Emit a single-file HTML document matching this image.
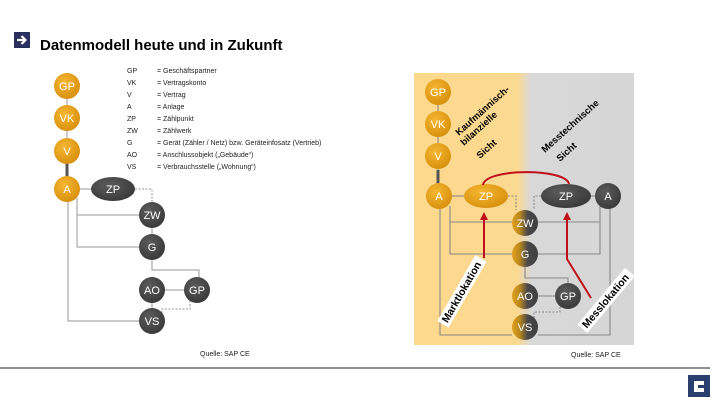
<!DOCTYPE html>
<html><head><meta charset="utf-8"><style>
body{margin:0;width:720px;height:405px;background:#fff;overflow:hidden;font-family:"Liberation Sans",sans-serif}
svg{display:block}
</style></head><body>
<svg width="720" height="405" viewBox="0 0 720 405" xmlns="http://www.w3.org/2000/svg" font-family="Liberation Sans, sans-serif">
<defs>
<radialGradient id="og" cx="40%" cy="35%" r="70%"><stop offset="0" stop-color="#f6b733"/><stop offset="1" stop-color="#d78f0a"/></radialGradient>
<radialGradient id="dg" cx="40%" cy="35%" r="70%"><stop offset="0" stop-color="#5c5c5c"/><stop offset="1" stop-color="#383838"/></radialGradient>
<linearGradient id="mg" x1="0" x2="1" y1="0" y2="0"><stop offset="0" stop-color="#e3a020"/><stop offset="0.3" stop-color="#b8871c"/><stop offset="0.6" stop-color="#4a4a4a"/><stop offset="1" stop-color="#3e3e3e"/></linearGradient>
<linearGradient id="bg" x1="0" x2="1"><stop offset="0" stop-color="#fcd98c"/><stop offset="0.47" stop-color="#fbd991"/><stop offset="0.53" stop-color="#d8d8d8"/><stop offset="1" stop-color="#d6d6d6"/></linearGradient>
</defs>
<rect x="14" y="32" width="16" height="16" fill="#2a2f5e"/>
<path d="M17 40h8M21.5 36l4 4-4 4" stroke="#fff" stroke-width="2.2" fill="none"/>
<text x="40" y="50" font-size="15" font-weight="bold" fill="#000">Datenmodell heute und in Zukunft</text>

<g stroke="#aaa" stroke-width="1.2" fill="none">
<line x1="67" y1="92" x2="67" y2="180"/>
<path d="M68 200V321H140"/>
<path d="M77 198V215H140M77 215V247H140"/>
<path d="M152 258V270H199V282"/>
<line x1="160" y1="290" x2="186" y2="290"/>
<line x1="80" y1="189" x2="92" y2="189"/>
<line x1="152" y1="225" x2="152" y2="236"/>
<line x1="152" y1="300" x2="152" y2="310"/>
<path d="M135 189H152V203" stroke-dasharray="2,1.5"/>
<path d="M162 313V309H190V300" stroke-dasharray="2,1.5"/>
</g>
<line x1="67" y1="163" x2="67" y2="177" stroke="#555" stroke-width="3"/>
<g font-size="11" fill="#fff" text-anchor="middle">
<circle cx="67" cy="86" r="13" fill="url(#og)"/><text x="67" y="90">GP</text>
<circle cx="67" cy="118" r="13" fill="url(#og)"/><text x="67" y="122">VK</text>
<circle cx="67" cy="151" r="13" fill="url(#og)"/><text x="67" y="155">V</text>
<circle cx="67" cy="189" r="13" fill="url(#og)"/><text x="67" y="193">A</text>
<ellipse cx="113" cy="189" rx="22" ry="12" fill="url(#dg)"/><text x="113" y="193">ZP</text>
<circle cx="152" cy="215" r="13" fill="url(#dg)"/><text x="152" y="219">ZW</text>
<circle cx="152" cy="247" r="13" fill="url(#dg)"/><text x="152" y="251">G</text>
<circle cx="152" cy="290" r="13" fill="url(#dg)"/><text x="152" y="294">AO</text>
<circle cx="197" cy="290" r="13" fill="url(#dg)"/><text x="197" y="294">GP</text>
<circle cx="152" cy="321" r="13" fill="url(#dg)"/><text x="152" y="325">VS</text>
</g>
<g font-size="7" fill="#222">
<text x="127" y="73">GP</text><text x="157" y="73">= Geschäftspartner</text>
<text x="127" y="85">VK</text><text x="157" y="85">= Vertragskonto</text>
<text x="127" y="97">V</text><text x="157" y="97">= Vertrag</text>
<text x="127" y="109">A</text><text x="157" y="109">= Anlage</text>
<text x="127" y="121">ZP</text><text x="157" y="121">= Zählpunkt</text>
<text x="127" y="133">ZW</text><text x="157" y="133">= Zählwerk</text>
<text x="127" y="145">G</text><text x="157" y="145">= Gerät (Zähler / Netz) bzw. Geräteinfosatz (Vertrieb)</text>
<text x="127" y="157">AO</text><text x="157" y="157">= Anschlussobjekt („Gebäude“)</text>
<text x="127" y="169">VS</text><text x="157" y="169">= Verbrauchsstelle („Wohnung“)</text>
</g>
<text x="200" y="356" font-size="7" fill="#222">Quelle: SAP CE</text>

<rect x="414" y="73" width="220" height="272" fill="url(#bg)"/>
<g stroke="#888" stroke-width="1.1" fill="none">
<line x1="438" y1="98" x2="438" y2="182"/>
<path d="M440 206V335H512"/>
<path d="M450 206V254H512M450 222H512"/>
<path d="M538 222H600V206M538 254H600V222"/>
<path d="M610 206V335H538"/>
<line x1="452" y1="196" x2="464" y2="196"/>
<line x1="591" y1="196" x2="596" y2="196"/>
<path d="M525 265V278H568V284"/>
<line x1="538" y1="296" x2="555" y2="296"/>
<path d="M508 196H516V210M541 196H534V210" stroke-dasharray="2,1.5"/>
<path d="M534 318V312H560V306" stroke-dasharray="2,1.5"/>
</g>
<line x1="438" y1="170" x2="438" y2="184" stroke="#555" stroke-width="3"/>
<g font-size="11" fill="#fff" text-anchor="middle">
<circle cx="438" cy="92" r="13" fill="url(#og)"/><text x="438" y="96">GP</text>
<circle cx="438" cy="124" r="13" fill="url(#og)"/><text x="438" y="128">VK</text>
<circle cx="438" cy="156" r="13" fill="url(#og)"/><text x="438" y="160">V</text>
<circle cx="439" cy="196" r="13" fill="url(#og)"/><text x="439" y="200">A</text>
<ellipse cx="486" cy="196" rx="22" ry="12" fill="url(#og)"/><text x="486" y="200">ZP</text>
<ellipse cx="566" cy="196" rx="25" ry="12" fill="url(#dg)"/><text x="566" y="200">ZP</text>
<circle cx="608" cy="196" r="13" fill="url(#dg)"/><text x="608" y="200">A</text>
<circle cx="525" cy="223" r="13" fill="url(#mg)"/><text x="525" y="227">ZW</text>
<circle cx="525" cy="254" r="13" fill="url(#mg)"/><text x="525" y="258">G</text>
<circle cx="525" cy="296" r="13" fill="url(#mg)"/><text x="525" y="300">AO</text>
<circle cx="568" cy="296" r="13" fill="url(#dg)"/><text x="568" y="300">GP</text>
<circle cx="525" cy="327" r="13" fill="url(#mg)"/><text x="525" y="331">VS</text>
</g>
<g stroke="#c0101a" stroke-width="2" fill="none">
<path d="M483 185C485 168 566 168 569 184"/>
<line x1="484" y1="258" x2="484" y2="218"/>
<path d="M591 298L567 259V218"/>
</g>
<path d="M480 220L484 212L488 220Z M563 220L567 212L571 220Z" fill="#c0101a"/>
<g transform="translate(446,326) rotate(-60)">
<rect x="0" y="-10" width="76" height="13" fill="#fff"/>
<text x="3" y="0" font-size="10.5" font-weight="bold" fill="#000">Marktlokation</text>
</g>
<g transform="translate(585,331) rotate(-50)">
<rect x="0" y="-10" width="74" height="13" fill="#fff"/>
<text x="3" y="0" font-size="10.5" font-weight="bold" fill="#000">Messlokation</text>
</g>
<g font-size="9.5" font-weight="bold" fill="#000">
<text transform="translate(459,136) rotate(-42)">Kaufmännisch-</text>
<text transform="translate(464,146) rotate(-42)">bilanzielle</text>
<text transform="translate(480,159) rotate(-42)">Sicht</text>
<text transform="translate(545,153) rotate(-42)">Messtechnische</text>
<text transform="translate(560,162) rotate(-42)">Sicht</text>
</g>
<text x="571" y="357" font-size="7" fill="#222">Quelle: SAP CE</text>

<line x1="0" y1="368" x2="710" y2="368" stroke="#222" stroke-width="1"/>
<rect x="688" y="375" width="22" height="22" fill="#2a3f6e"/>
<path d="M704 383h-8v7h8" stroke="#fff" stroke-width="4" fill="none"/>
</svg>
</body></html>
